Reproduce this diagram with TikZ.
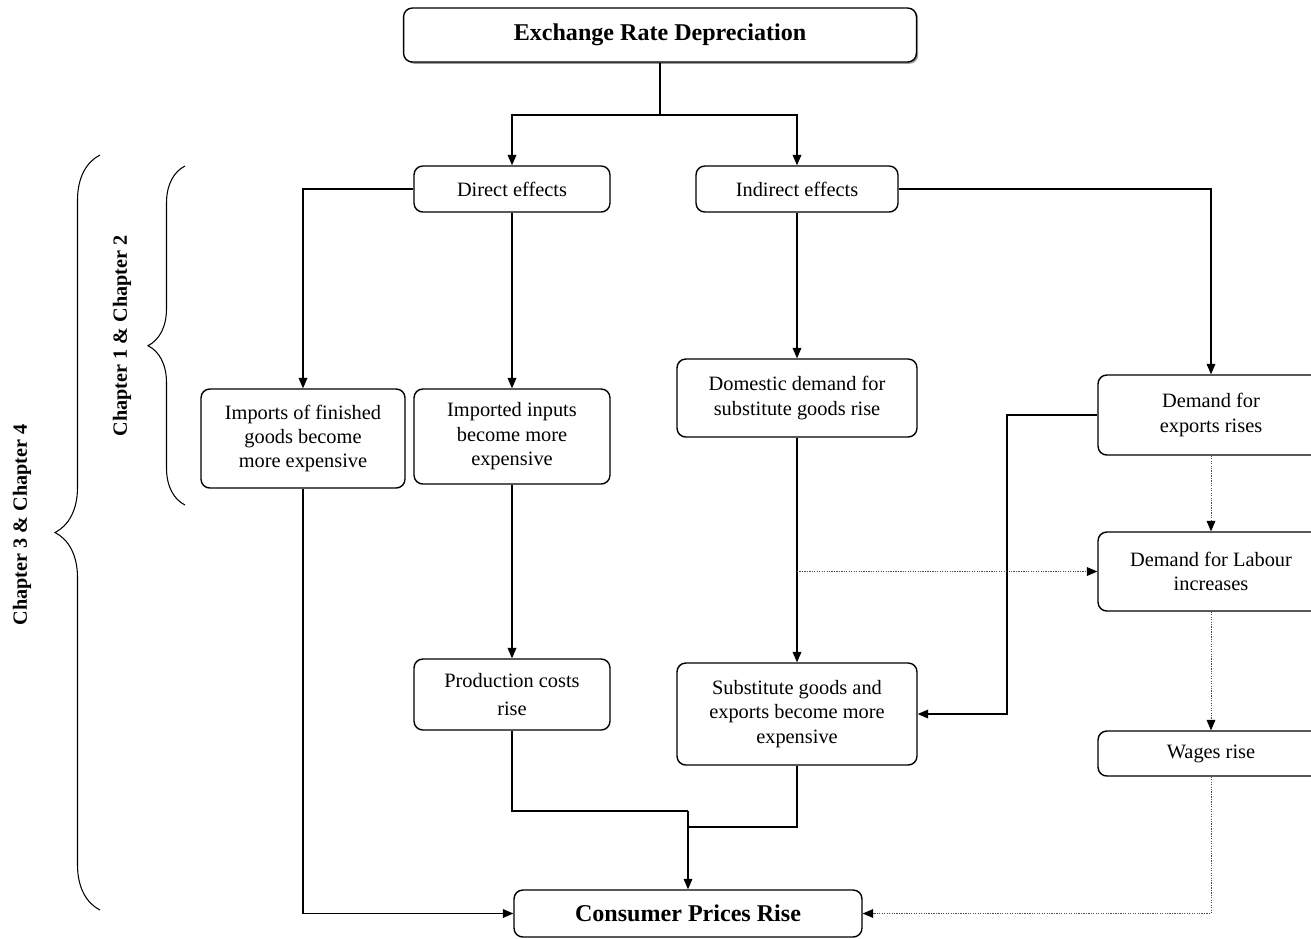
\documentclass[tikz,border=0pt]{standalone}
\usepackage{fontspec}
\setmainfont{Liberation Serif}
\usetikzlibrary{arrows.meta,shadows,decorations.pathreplacing}

\tikzset{
  box/.style={draw, fill=white, line width=0.8pt, rounded corners=5pt, align=center, inner sep=2pt,
    font=\fontsize{11.6}{13.9}\selectfont},
  headbox/.style={box, font=\bfseries\fontsize{13.7}{16}\selectfont},
  conn/.style={line width=0.7pt, -{Triangle[length=6pt,width=5pt]}},
  plainline/.style={line width=0.7pt},
  dotconn/.style={line width=0.5pt, gray!60!black, dash pattern=on 0.7pt off 0.7pt,
    -{Triangle[length=6pt,width=5pt,color=black]}},
  chapbrace/.style={line width=0.6pt, decorate},
  chap/.style={font=\bfseries\fontsize{11.5}{13}\selectfont, rotate=90},
}

\begin{document}
\begin{tikzpicture}[x=0.02cm, y=-0.02cm]
\useasboundingbox (0,0) rectangle (1311,938);

% boxes
\node[headbox, minimum width=10.26cm, minimum height=1.08cm,
  drop shadow={shadow xshift=1pt, shadow yshift=-1pt, opacity=0.8}] (top) at (660,35) {Exchange Rate Depreciation};
\node[box, minimum width=3.92cm, minimum height=0.92cm] (direct) at (512,189) {Direct effects};
\node[box, minimum width=4.04cm, minimum height=0.92cm] (indirect) at (797,189) {Indirect effects};
\node[box, minimum width=4.08cm, minimum height=1.98cm] (imports) at (303,438.5) {Imports of finished\\goods become\\more expensive};
\node[box, minimum width=3.92cm, minimum height=1.9cm] (inputs) at (512,436.5) {Imported inputs\\become more\\expensive};
\node[box, minimum width=3.92cm, minimum height=1.42cm] (prodcost) at (512,694.5) {Production costs\\[0.2em]rise};
\node[box, minimum width=4.8cm, minimum height=1.56cm] (domestic) at (797,398) {Domestic demand for\\substitute goods rise};
\node[box, minimum width=4.8cm, minimum height=2.04cm] (subst) at (797,714) {Substitute goods and\\exports become more\\expensive};
\node[box, minimum width=4.52cm, minimum height=1.6cm] (exports) at (1211,415) {Demand for\\exports rises};
\node[box, minimum width=4.52cm, minimum height=1.58cm] (labour) at (1211,571.5) {Demand for Labour\\increases};
\node[box, minimum width=4.52cm, minimum height=0.9cm] (wages) at (1211,753.5) {Wages rise};
\node[headbox, minimum width=6.96cm, minimum height=0.94cm] (consumer) at (688,913.5) {Consumer Prices Rise};

% connectors
\coordinate (split) at (660,115);
\coordinate (expbend) at (1007,0);
\coordinate (mergeA) at (688,811);
\coordinate (mergeB) at (688,827);
\draw[plainline] (top.south) -- (split);
\draw[conn] (split) -| (direct.north);
\draw[conn] (split) -| (indirect.north);
\draw[conn] (direct.west) -| (imports.north);
\draw[conn] (direct.south) -- (inputs.north);
\draw[conn] (inputs.south) -- (prodcost.north);
\draw[conn] (indirect.south) -- (domestic.north);
\draw[conn] (indirect.east) -| (exports.north);
\draw[conn] (domestic.south) -- (subst.north);
\draw[conn] (exports.west) -- (expbend |- exports.west) |- (subst.east);
\draw[dotconn] (domestic.south |- labour.west) -- (labour.west);
\draw[dotconn] (exports.south) -- (labour.north);
\draw[dotconn] (labour.south) -- (wages.north);
\draw[dotconn] (wages.south) |- (consumer.east);
\draw[conn] (imports.south) |- (consumer.west);
\draw[plainline] (prodcost.south) |- (mergeA);
\draw[plainline] (subst.south) |- (mergeB);
\draw[conn] (mergeA) -- (consumer.north);

% chapter braces
\draw[chapbrace, decoration={brace, amplitude=0.74cm, aspect=0.47}] (185,505) -- (185,166);
\draw[chapbrace, decoration={brace, amplitude=0.9cm}] (100,910) -- (100,155);
\node[chap] (chA) at (122,336) {Chapter 1 \& Chapter 2};
\node[chap] (chB) at (22,525) {Chapter 3 \& Chapter 4};
\end{tikzpicture}
\end{document}
